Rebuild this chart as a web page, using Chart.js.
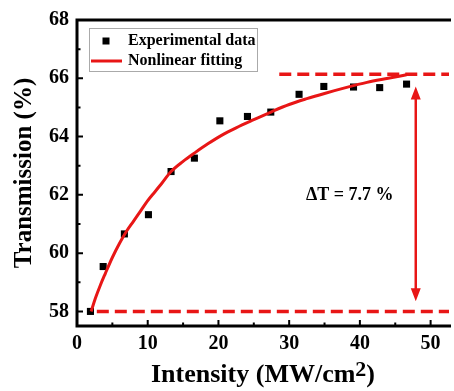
<!DOCTYPE html>
<html lang="en">
<head>
    <meta charset="UTF-8">
    <title>Transmission vs Intensity</title>
    <script src="https://cdn.jsdelivr.net/npm/chart.js"></script>
    <style>
        html, body { margin: 0; padding: 0; background: #fff; overflow: hidden; }
        #wrap { width: 454px; height: 391px; }
    </style>
</head>
<body>
<div id="wrap"><canvas id="transChart" width="454" height="391"></canvas></div>
<script>
    // measured points (Intensity, Transmission)
    const expX = [1.9, 3.7, 6.7, 10.1, 13.3, 16.6, 20.2, 24.1, 27.4, 31.4, 34.9, 39.1, 42.8, 46.6];
    const expY = [58.0, 59.54, 60.66, 61.32, 62.8, 63.26, 64.54, 64.69, 64.84, 65.45, 65.72, 65.7, 65.68, 65.8];

    // fitted curve
    const fitX = [2.0, 2.6, 3.3, 4.0, 5.0, 6.0, 7.0, 8.0, 9.0, 10.0, 11.0, 12.0, 13.3, 15.0, 16.7, 18.5,
                  20.5, 22.5, 25.0, 27.5, 30.0, 32.5, 35.0, 38.0, 41.0, 44.0, 46.6];
    const fitY = [58.0, 58.45, 58.9, 59.3, 59.85, 60.33, 60.75, 61.1, 61.45, 61.8, 62.1, 62.4, 62.8, 63.15, 63.45, 63.75,
                  64.05, 64.3, 64.58, 64.85, 65.1, 65.3, 65.48, 65.68, 65.86, 66.0, 66.12];

    // dashed reference levels and the delta arrow
    const topLevelX = [28.6, 52.6];
    const topLevelY = [66.14, 66.14];
    const baseLevelX = [2.8, 52.6];
    const baseLevelY = [58.0, 58.0];
    const arrowX = [47.9];
    const arrowY = [65.72, 58.35];
    const deltaLabel = 'ΔT = 7.7 %';

    // axis ticks
    const xTicks = [0, 10, 20, 30, 40, 50];
    const xMinor = [5, 15, 25, 35, 45];
    const yTicks = [58, 60, 62, 64, 66, 68];
    const yMinor = [59, 61, 63, 65, 67];

    const RED = 'rgb(232, 22, 22)';
    const SERIF = '"Liberation Serif", "Times New Roman", serif';

    const pts = (xs, ys) => xs.map((x, i) => ({x: x, y: ys[i]}));

    // frame, inward ticks, titles, legend, arrow
    const extras = {
        id: 'extras',
        afterDatasetsDraw(chart) {
            const ctx = chart.ctx;
            const a = chart.chartArea;
            const xs = chart.scales.x;
            const ys = chart.scales.y;
            ctx.save();

            // arrow
            const ax = xs.getPixelForValue(arrowX[0]);
            const at = ys.getPixelForValue(arrowY[0]);
            const ab = ys.getPixelForValue(arrowY[1]);
            ctx.strokeStyle = RED;
            ctx.fillStyle = RED;
            ctx.lineWidth = 2.5;
            ctx.beginPath();
            ctx.moveTo(ax, at + 10);
            ctx.lineTo(ax, ab - 10);
            ctx.stroke();
            ctx.beginPath();
            ctx.moveTo(ax, at); ctx.lineTo(ax - 5, at + 13); ctx.lineTo(ax + 5, at + 13); ctx.closePath();
            ctx.moveTo(ax, ab); ctx.lineTo(ax - 5, ab - 13); ctx.lineTo(ax + 5, ab - 13); ctx.closePath();
            ctx.fill();

            // frame
            ctx.strokeStyle = '#000';
            ctx.lineWidth = 3;
            ctx.beginPath();
            ctx.moveTo(a.right + 2, a.top);
            ctx.lineTo(a.left, a.top);
            ctx.lineTo(a.left, a.bottom);
            ctx.lineTo(a.right + 2, a.bottom);
            ctx.stroke();

            // inward ticks
            ctx.lineWidth = 2;
            ctx.beginPath();
            xTicks.concat(xMinor).forEach(v => {
                const len = xTicks.includes(v) ? 6 : 3.5;
                const p = xs.getPixelForValue(v);
                ctx.moveTo(p, a.bottom); ctx.lineTo(p, a.bottom - len);
            });
            yTicks.concat(yMinor).forEach(v => {
                const len = yTicks.includes(v) ? 6 : 3.5;
                const p = ys.getPixelForValue(v);
                ctx.moveTo(a.left, p); ctx.lineTo(a.left + len, p);
            });
            ctx.stroke();

            // x title with superscript
            ctx.fillStyle = '#000';
            ctx.textBaseline = 'alphabetic';
            ctx.textAlign = 'left';
            const big = 'bold 26px ' + SERIF;
            const sup = 'bold 22px ' + SERIF;
            ctx.font = big;
            const w1 = ctx.measureText('Intensity (MW/cm').width;
            const w3 = ctx.measureText(')').width;
            ctx.font = sup;
            const w2 = ctx.measureText('2').width;
            let tx = (a.left + a.right) / 2 - (w1 + w2 + w3) / 2;
            const base = 382;
            ctx.font = big; ctx.fillText('Intensity (MW/cm', tx, base); tx += w1;
            ctx.font = sup; ctx.fillText('2', tx, base - 6); tx += w2;
            ctx.font = big; ctx.fillText(')', tx, base);

            // y title
            ctx.save();
            ctx.translate(31, (a.top + a.bottom) / 2);
            ctx.rotate(-Math.PI / 2);
            ctx.textAlign = 'center';
            ctx.font = 'bold 25px ' + SERIF;
            ctx.fillText('Transmission (%)', 0, 0);
            ctx.restore();

            // delta label
            ctx.font = 'bold 18px ' + SERIF;
            ctx.textAlign = 'left';
            ctx.textBaseline = 'middle';
            ctx.fillText(deltaLabel, 306, 195);

            // legend
            ctx.strokeStyle = '#aaa';
            ctx.lineWidth = 1;
            ctx.strokeRect(89.5, 28.5, 168, 43);
            const ds = chart.data.datasets;
            ctx.fillStyle = '#000';
            ctx.fillRect(102.5, 37.5, 7, 7);
            ctx.strokeStyle = RED;
            ctx.lineWidth = 3;
            ctx.beginPath();
            ctx.moveTo(91, 61); ctx.lineTo(122, 61);
            ctx.stroke();
            ctx.font = 'bold 16px ' + SERIF;
            ctx.fillStyle = '#000';
            ctx.fillText(ds[3].label, 128, 41);
            ctx.fillText(ds[0].label, 128, 61);

            ctx.restore();
        }
    };

    const tickFont = {family: SERIF, size: 20, weight: 'bold'};

    new Chart(document.getElementById('transChart'), {
        type: 'scatter',
        data: {
            datasets: [{
                label: 'Nonlinear fitting',
                data: pts(fitX, fitY),
                showLine: true,
                borderColor: RED,
                borderWidth: 3,
                pointRadius: 0,
                cubicInterpolationMode: 'monotone'
            }, {
                label: 'top level',
                data: pts(topLevelX, topLevelY),
                showLine: true,
                borderColor: RED,
                borderWidth: 3.5,
                borderDash: [12, 6],
                pointRadius: 0
            }, {
                label: 'base level',
                data: pts(baseLevelX, baseLevelY),
                showLine: true,
                borderColor: RED,
                borderWidth: 3.5,
                borderDash: [12, 6],
                pointRadius: 0
            }, {
                label: 'Experimental data',
                data: pts(expX, expY),
                pointStyle: 'rect',
                pointRadius: 5,
                backgroundColor: '#000',
                borderWidth: 0
            }]
        },
        options: {
            responsive: false,
            animation: false,
            layout: {padding: {top: 20, right: 0, left: 0, bottom: 0}},
            plugins: {legend: {display: false}, tooltip: {enabled: false}},
            scales: {
                x: {
                    type: 'linear',
                    min: 0,
                    max: 52.6,
                    afterBuildTicks: s => { s.ticks = xTicks.map(v => ({value: v})); },
                    afterFit: s => { s.height = 65; },
                    grid: {display: false, drawTicks: false},
                    border: {display: false},
                    ticks: {font: tickFont, color: '#000', padding: 6, maxRotation: 0}
                },
                y: {
                    min: 57.5,
                    max: 68,
                    afterBuildTicks: s => { s.ticks = yTicks.map(v => ({value: v})); },
                    afterFit: s => { s.width = 77; },
                    grid: {display: false, drawTicks: false},
                    border: {display: false},
                    ticks: {font: tickFont, color: '#000', padding: 8}
                }
            }
        },
        plugins: [extras]
    });
</script>
</body>
</html>
